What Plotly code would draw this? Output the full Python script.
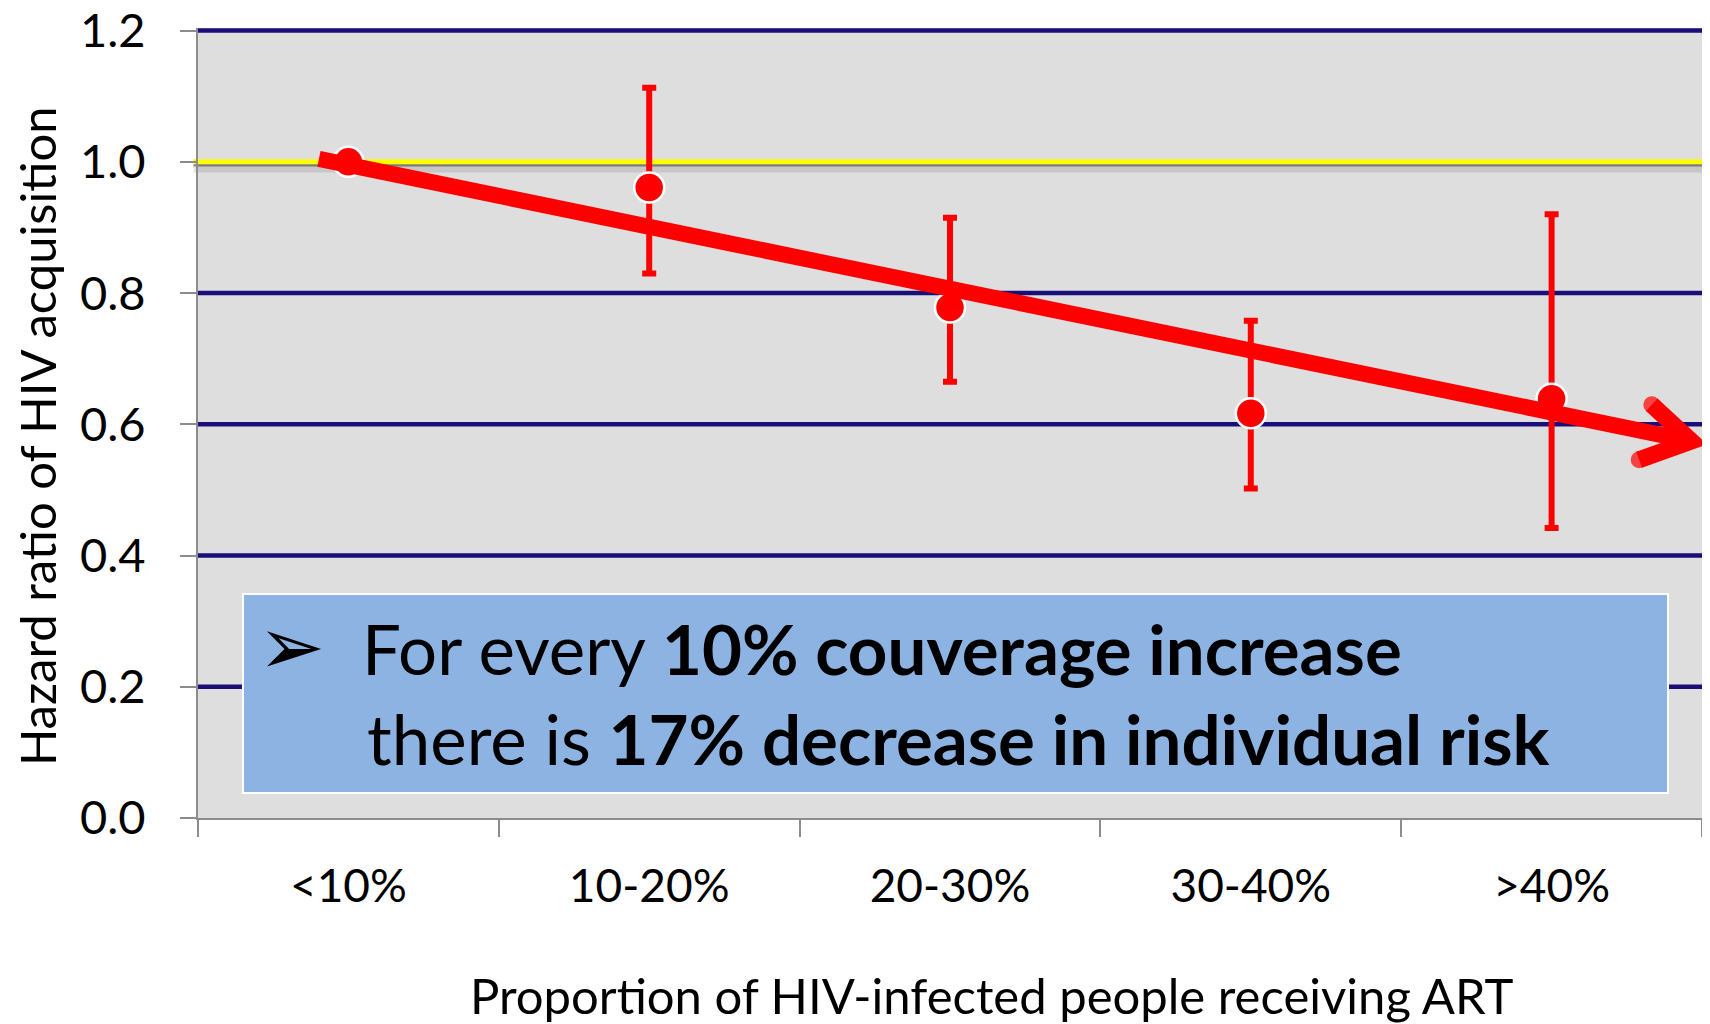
import plotly.graph_objects as go

categories = ["<10%", "10-20%", "20-30%", "30-40%", ">40%"]
hazard_ratio = [1.0, 0.961, 0.778, 0.617, 0.639]
ci_upper = [1.0, 1.113, 0.915, 0.758, 0.920]
ci_lower = [1.0, 0.830, 0.665, 0.502, 0.442]
y_ticks = [0.0, 0.2, 0.4, 0.6, 0.8, 1.0, 1.2]
y_tick_labels = ["0.0", "0.2", "0.4", "0.6", "0.8", "1.0", "1.2"]
grid_values = [0.2, 0.4, 0.6, 0.8, 1.2]
reference_value = 1.0
# trend arrow, in (category index, hazard ratio) units
arrow_shaft_x = [-0.098, 4.464]
arrow_shaft_y = [1.0046, 0.5743]
arrow_head_x = [4.333, 4.464, 4.291]
arrow_head_y = [0.6298, 0.5743, 0.5459]

err_plus = [u - v for u, v in zip(ci_upper, hazard_ratio)]
err_minus = [v - l for v, l in zip(hazard_ratio, ci_lower)]

NAVY = "#1a0f78"
RED = "#ff0000"
FONT = "Lato, 'Open Sans', sans-serif"

fig = go.Figure()
fig.add_trace(go.Scatter(
    x=list(range(len(categories))), y=hazard_ratio, mode="markers",
    marker=dict(size=30, color=RED, line=dict(color="white", width=2.5)),
    error_y=dict(type="data", symmetric=False, array=err_plus, arrayminus=err_minus,
                 color=RED, thickness=6, width=7),
    cliponaxis=False, showlegend=False, hoverinfo="y",
))
fig.add_trace(go.Scatter(
    x=arrow_shaft_x, y=arrow_shaft_y, mode="lines",
    line=dict(color=RED, width=16), showlegend=False, hoverinfo="skip",
))
fig.add_trace(go.Scatter(
    x=arrow_head_x, y=arrow_head_y, mode="lines+markers",
    line=dict(color=RED, width=17),
    marker=dict(size=[17, 0, 17], color=RED, line=dict(width=0)),
    showlegend=False, hoverinfo="skip",
))

shapes = []
for g in grid_values:
    shapes.append(dict(type="line", xref="paper", yref="y", x0=0, x1=1, y0=g, y1=g,
                       line=dict(color=NAVY, width=4.5), layer="below"))
# shadow under yellow reference line
shapes.append(dict(type="line", xref="paper", yref="y", x0=-0.003, x1=1,
                   y0=reference_value - 0.010, y1=reference_value - 0.010,
                   line=dict(color="rgba(0,0,0,0.10)", width=8), layer="below"))
shapes.append(dict(type="line", xref="paper", yref="y", x0=-0.003, x1=1,
                   y0=reference_value - 0.005, y1=reference_value - 0.005,
                   line=dict(color="rgba(60,60,60,0.55)", width=2.5), layer="below"))
shapes.append(dict(type="line", xref="paper", yref="y", x0=-0.003, x1=1,
                   y0=reference_value, y1=reference_value,
                   line=dict(color="#ffff00", width=5), layer="below"))
# text box
shapes.append(dict(type="rect", xref="paper", yref="paper", x0=0.0299, x1=0.9774,
                   y0=0.0316, y1=0.2835, fillcolor="#8db3e2",
                   line=dict(color="white", width=2), layer="above"))

annotations = [
    dict(x=0.0620, y=0.2175, xref="paper", yref="paper", text="\u27a2", showarrow=False,
         font=dict(family="DejaVu Sans", size=80, color="black"),
         xanchor="center", yanchor="middle"),
    dict(x=0.1077, y=0.2150, xref="paper", yref="paper",
         text="For every <b>10% couverage increase</b>", showarrow=False,
         font=dict(family=FONT, size=69, color="black"), xanchor="left", yanchor="middle"),
    dict(x=0.1110, y=0.1010, xref="paper", yref="paper",
         text="there is <b>17% decrease in individual risk</b>", showarrow=False,
         font=dict(family=FONT, size=69, color="black"), xanchor="left", yanchor="middle"),
    dict(x=0.528, y=-0.2240, xref="paper", yref="paper",
         text="Proportion of HIV-infected people receiving ART", showarrow=False,
         font=dict(family=FONT, size=49, color="black"), xanchor="center", yanchor="middle"),
    dict(x=-0.1070, y=0.4835, xref="paper", yref="paper", textangle=-90,
         text="Hazard ratio of HIV acquisition", showarrow=False,
         font=dict(family=FONT, size=49, color="black"), xanchor="center", yanchor="middle"),
]

fig.update_layout(
    width=1702, height=1016,
    margin=dict(l=190, r=8, t=20, b=206, autoexpand=False),
    paper_bgcolor="white", plot_bgcolor="#dedede",
    font=dict(family=FONT, color="black"),
    shapes=shapes, annotations=annotations,
    xaxis=dict(tickmode="array", tickvals=list(range(len(categories))), ticktext=categories,
               range=[-0.5, 4.5], ticks="", showline=True, linecolor="#8c8c8c",
               linewidth=2, showgrid=False, zeroline=False, automargin=False,
               tickfont=dict(size=46, family=FONT), ticklabelstandoff=27,
               minor=dict(tickmode="array", tickvals=[-0.5, 0.5, 1.5, 2.5, 3.5, 4.5],
                          ticks="outside", ticklen=17, tickwidth=2, tickcolor="#8c8c8c",
                          showgrid=False)),
    yaxis=dict(range=[0, 1.204], tickmode="array", tickvals=y_ticks, ticktext=y_tick_labels,
               ticks="outside", ticklen=16, tickwidth=2, tickcolor="#8c8c8c",
               showline=True, linecolor="#8c8c8c", linewidth=2, showgrid=False,
               zeroline=False, automargin=False, tickfont=dict(size=47, family=FONT),
               ticklabelstandoff=25, ticklabeloverflow="allow"),
)

fig.write_html("out.html")
